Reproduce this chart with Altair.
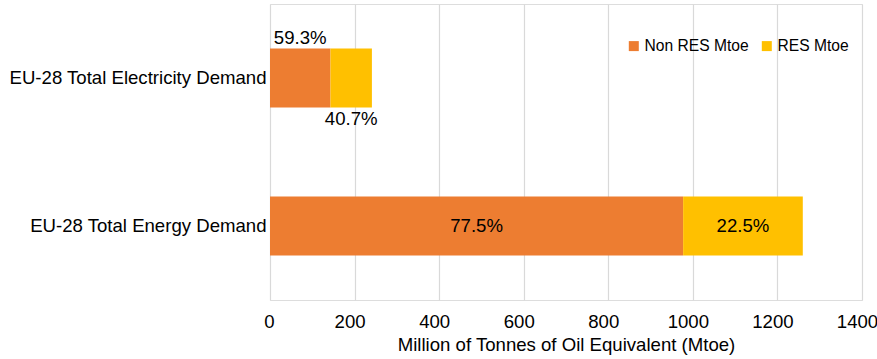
import altair as alt
import pandas as pd

categories = ["EU-28 Total Electricity Demand", "EU-28 Total Energy Demand"]
non_res = [143, 977]
res = [98, 283]
series = ["Non RES Mtoe", "RES Mtoe"]
colors = ["#ED7D31", "#FFC000"]
tick_values = [0, 200, 400, 600, 800, 1000, 1200, 1400]

rows = []
for c, a, b in zip(categories, non_res, res):
    rows.append({"cat": c, "series": series[0], "order": 0, "value": a})
    rows.append({"cat": c, "series": series[1], "order": 1, "value": b})
df = pd.DataFrame(rows)

FONT = "Liberation Sans"
FS = 18.6

base = alt.Chart(df).transform_stack(
    stack="value", groupby=["cat"], as_=["x0", "x1"], sort=[alt.SortField("order")]
).transform_joinaggregate(total="sum(value)", groupby=["cat"]).transform_calculate(
    mid="(datum.x0 + datum.x1) / 2",
    pct="format(datum.value / datum.total * 100, '.1f') + '%'",
)

yenc = alt.Y(
    "cat:N",
    sort=categories,
    title=None,
    scale=alt.Scale(paddingInner=0.6, paddingOuter=0.3),
    axis=alt.Axis(
        labelFont=FONT, labelFontSize=FS, labelColor="#000000", labelPadding=4,
        ticks=False, domain=False, grid=False, labelLimit=300,
    ),
)

bars = base.mark_bar(strokeWidth=0).encode(
    x=alt.X(
        "x0:Q",
        scale=alt.Scale(domain=[0, 1400], nice=False),
        title="Million of Tonnes of Oil Equivalent (Mtoe)",
        axis=alt.Axis(
            values=tick_values, format="d",
            labelFont=FONT, labelFontSize=FS, labelColor="#000000", labelPadding=12,
            labelOffset=alt.condition(alt.datum.value == 0, alt.value(-1), alt.value(-5)),
            titleFont=FONT, titleFontSize=FS, titleFontWeight="normal", titleColor="#000000",
            titlePadding=5, ticks=False, domain=False, grid=True,
            gridColor="#D9D9D9", gridWidth=1.2, labelFlush=False,
        ),
    ),
    x2="x1:Q",
    y=yenc,
    color=alt.Color(
        "series:N",
        scale=alt.Scale(domain=series, range=colors),
        legend=alt.Legend(
            title=None, orient="none", legendX=356, legendY=34, direction="horizontal",
            symbolType="square", symbolSize=100, symbolStrokeWidth=0,
            labelFont=FONT, labelFontSize=15.6, labelColor="#000000",
            columnPadding=10, labelOffset=3, symbolOpacity=1,
        ),
    ),
)

txt_style = dict(font=FONT, fontSize=FS, color="#000000")

inside = base.transform_filter(alt.datum.cat == categories[1]).mark_text(
    **txt_style, baseline="middle"
).encode(x="mid:Q", y=alt.Y("cat:N", sort=categories), text="pct:N")

above = base.transform_filter(
    (alt.datum.cat == categories[0]) & (alt.datum.order == 0)
).mark_text(**txt_style, baseline="middle", dy=-40).encode(
    x="mid:Q", y=alt.Y("cat:N", sort=categories), text="pct:N"
)

below = base.transform_filter(
    (alt.datum.cat == categories[0]) & (alt.datum.order == 1)
).mark_text(**txt_style, baseline="middle", dy=41).encode(
    x="mid:Q", y=alt.Y("cat:N", sort=categories), text="pct:N"
)

chart = alt.layer(bars, inside, above, below).properties(
    width=592, height=296,
    autosize=alt.AutoSizeParams(type="none"),
    padding={"left": 270, "top": 4, "right": 15, "bottom": 59},
).configure_view(stroke=None).configure(background="white")

chart.save("out.html", embed_options={"renderer": "svg", "actions": False})
